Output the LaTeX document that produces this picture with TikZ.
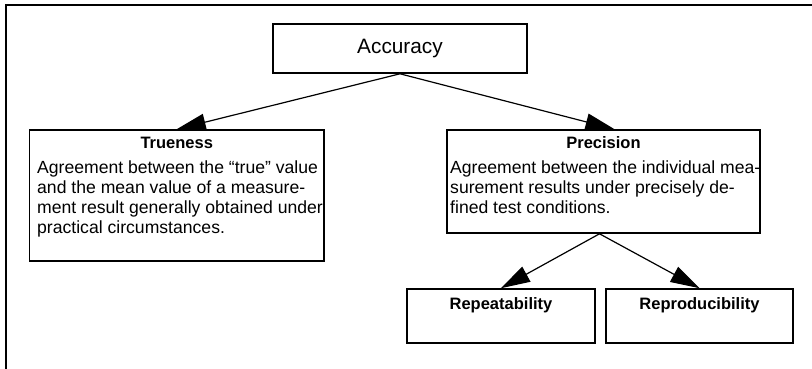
\documentclass[tikz,border=0pt]{standalone}
\usepackage{fontspec}
\setmainfont{Liberation Sans}
\usetikzlibrary{arrows.meta}

\begin{document}
\begin{tikzpicture}[x=1pt,y=-1pt,
  box/.style={draw,line width=1.6pt,rectangle,inner sep=0pt},
  head/.style={box,font=\bfseries\fontsize{16.5}{20}\selectfont},
  body/.style={anchor=north west,inner sep=0pt,align=left,
    font=\fontsize{17.6}{20}\selectfont},
  link/.style={line width=1.2pt,-{Triangle[length=29pt,width=17pt]}}]
  \useasboundingbox (0,0) rectangle (812,369);
  % outer frame
  \draw[line width=2pt] (5.7,369) |- (812,5);
  % boxes
  \node[box,minimum width=254pt,minimum height=49pt,
    font=\fontsize{20.8}{24}\selectfont] (acc) at (400,48.5) {Accuracy};
  \node[head,minimum width=294.5pt,text height=19pt,text depth=112pt]
    (true) at (176.75,195.5) {Trueness};
  \node[head,minimum width=313pt,text height=19pt,text depth=84pt]
    (prec) at (603.5,181.5) {Precision};
  \node[head,minimum width=188pt,text height=20pt,text depth=34pt]
    (rep) at (501,316) {Repeatability};
  \node[head,minimum width=187pt,text height=20pt,text depth=34pt]
    (repro) at (699.5,316) {Reproducibility};
  % descriptions
  \node[body] (true-text) at (37,160.3) {Agreement between the “true” value\\
    and the mean value of a measure-\\
    ment result generally obtained under\\
    practical circumstances.};
  \node[body] (prec-text) at (450,160.3) {Agreement between the individual mea-\\
    surement results under precisely de-\\
    fined test conditions.};
  % arrows
  \draw[link] (acc.south) -- (true.north);
  \draw[link] (acc.south) -- ([xshift=11pt]prec.north);
  \draw[link] ([xshift=-4pt]prec.south) -- (rep.north);
  \draw[link] ([xshift=-4pt]prec.south) -- (repro.north);
\end{tikzpicture}
\end{document}
